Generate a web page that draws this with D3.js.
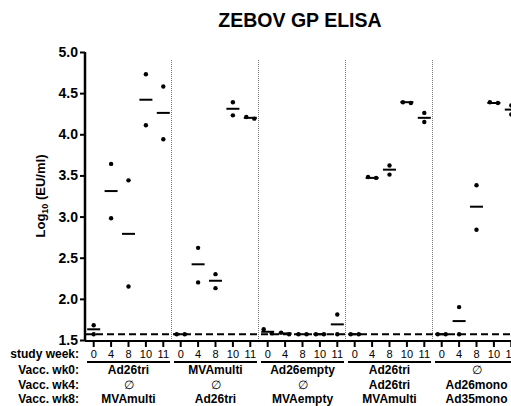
<!DOCTYPE html>
<html>
<head>
<meta charset="utf-8">
<script src="https://cdn.jsdelivr.net/npm/d3@7"></script>
<style>
  body { margin: 0; background: #fff; }
  text { font-family: "Liberation Sans", Arial, sans-serif; fill: #000; }
</style>
</head>
<body>
<div id="chart"></div>
<script>
// categories
var weeks = ["0", "4", "8", "10", "11"];
var groupWk0 = ["Ad26tri", "MVAmulti", "Ad26empty", "Ad26tri", "\u2205"];
var groupWk4 = ["\u2205", "\u2205", "\u2205", "Ad26tri", "Ad26mono"];
var groupWk8 = ["MVAmulti", "Ad26tri", "MVAempty", "MVAmulti", "Ad35mono"];
var rowLabels = ["study week:", "Vacc. wk0:", "Vacc. wk4:", "Vacc. wk8:"];
var yTicks = [1.5, 2.0, 2.5, 3.0, 3.5, 4.0, 4.5, 5.0];
var lod = 1.57;

// two animals per group, per week (log10 EU/ml), groups in order
var animal1 = [1.68, 3.64, 3.44, 4.73, 4.58,
               1.57, 2.62, 2.30, 4.39, 4.21,
               1.63, 1.59, 1.57, 1.57, 1.81,
               1.57, 3.48, 3.62, 4.39, 4.26,
               1.57, 1.90, 3.38, 4.39, 4.35];
var animal2 = [1.57, 2.98, 2.15, 4.11, 3.94,
               1.57, 2.20, 2.13, 4.23, 4.19,
               1.58, 1.57, 1.57, 1.57, 1.57,
               1.57, 3.47, 3.51, 4.38, 4.15,
               1.57, 1.57, 2.84, 4.38, 4.24];
var means   = [1.63, 3.31, 2.79, 4.42, 4.26,
               1.57, 2.42, 2.22, 4.31, 4.20,
               1.60, 1.58, 1.57, 1.57, 1.69,
               1.57, 3.47, 3.57, 4.39, 4.20,
               1.57, 1.73, 3.12, 4.38, 4.30];

var width = 511, height = 406;
var padLeft = 85, plotTop = 52, plotBottom = 340;
var step = 17.4;

var svg = d3.select("#chart").append("svg")
    .attr("width", width).attr("height", height);

// category keys
var keys = [];
groupWk0.forEach(function(g, gi) {
  weeks.forEach(function(w) { keys.push(gi + "_" + w); });
});

var x = d3.scaleBand().domain(keys).range([padLeft, padLeft + keys.length * step]);
var y = d3.scaleLinear().domain([1.5, 5.0]).range([plotBottom, plotTop]);

// title
svg.append("text")
    .attr("x", 300).attr("y", 27)
    .attr("text-anchor", "middle")
    .attr("font-size", "19.5px").attr("font-weight", "bold")
    .text("ZEBOV GP ELISA");

// y label
var yl = svg.append("text")
    .attr("transform", "translate(45,196) rotate(-90)")
    .attr("text-anchor", "middle")
    .attr("font-size", "13px").attr("font-weight", "bold");
yl.append("tspan").text("Log");
yl.append("tspan").attr("font-size", "9px").attr("dy", 3).text("10");
yl.append("tspan").attr("dy", -3).text(" (EU/ml)");

// group separators
for (var gi = 1; gi < groupWk0.length; gi++) {
  var sx = x(gi + "_0") - 0.5;
  svg.append("line")
      .attr("x1", sx).attr("x2", sx)
      .attr("y1", 60).attr("y2", plotBottom)
      .attr("stroke", "#777").attr("stroke-width", 1)
      .attr("stroke-dasharray", "1,1");
}

// LOD dashed line
svg.append("line")
    .attr("x1", padLeft).attr("x2", width)
    .attr("y1", y(lod)).attr("y2", y(lod))
    .attr("stroke", "#000").attr("stroke-width", 2)
    .attr("stroke-dasharray", "7,4");

// y axis
var yAxis = d3.axisLeft(y).tickValues(yTicks).tickFormat(d3.format(".1f"))
    .tickSize(5).tickPadding(2);
var gy = svg.append("g").attr("transform", "translate(" + padLeft + ",0)").call(yAxis);
gy.select(".domain").attr("stroke-width", 2.5).attr("d", "M0," + plotTop + "V" + (plotBottom + 1));
gy.selectAll(".tick line").attr("stroke-width", 2);
gy.selectAll(".tick text").attr("font-size", "14px").attr("font-weight", "bold")
    .attr("font-family", "Liberation Sans, Arial, sans-serif");

// x axis
var xAxis = d3.axisBottom(x).tickSize(6).tickPadding(3)
    .tickFormat(function(d) { return d.split("_")[1]; });
var gx = svg.append("g").attr("transform", "translate(0," + (plotBottom + 1) + ")").call(xAxis);
gx.select(".domain").attr("stroke-width", 2).attr("d", "M" + padLeft + ",0H" + width);
gx.selectAll(".tick line").attr("stroke-width", 2);
gx.selectAll(".tick text").attr("font-size", "11px")
    .attr("font-family", "Liberation Sans, Arial, sans-serif");

// row labels
rowLabels.forEach(function(t, i) {
  svg.append("text")
      .attr("x", 79).attr("y", i === 0 ? 358 : 374 + (i - 1) * 14.5)
      .attr("text-anchor", "end")
      .attr("font-size", "12px").attr("font-weight", "bold")
      .text(t);
});

// group underlines and labels
groupWk0.forEach(function(g, gi) {
  var x0 = x(gi + "_0"), x1 = x(gi + "_11") + x.bandwidth();
  svg.append("line")
      .attr("x1", x0 + 2).attr("x2", x1 - 2)
      .attr("y1", 362).attr("y2", 362)
      .attr("stroke", "#000").attr("stroke-width", 2);
  var cx = (x0 + x1) / 2;
  [groupWk0[gi], groupWk4[gi], groupWk8[gi]].forEach(function(t, r) {
    svg.append("text")
        .attr("x", cx).attr("y", 374 + r * 14.5)
        .attr("text-anchor", "middle")
        .attr("font-size", "12px")
        .attr("font-weight", t === "\u2205" ? "normal" : "bold")
        .text(t);
  });
});

// points
var pts = [];
keys.forEach(function(k, i) {
  var a = animal1[i], b = animal2[i];
  var off = Math.abs(a - b) < 0.05 ? 4 : 0;
  pts.push({ k: k, v: a, dx: -off });
  pts.push({ k: k, v: b, dx: off });
});

var cx = function(k) { return x(k) + x.bandwidth() / 2; };

// mean lines
svg.selectAll(".mean").data(keys).enter().append("line")
    .attr("class", "mean")
    .attr("x1", function(d) { return cx(d) - 6.5; })
    .attr("x2", function(d) { return cx(d) + 6.5; })
    .attr("y1", function(d, i) { return y(means[i]); })
    .attr("y2", function(d, i) { return y(means[i]); })
    .attr("stroke", "#000").attr("stroke-width", 2);

svg.selectAll(".dot").data(pts).enter().append("circle")
    .attr("class", "dot")
    .attr("cx", function(d) { return cx(d.k) + d.dx; })
    .attr("cy", function(d) { return y(d.v); })
    .attr("r", 2.2)
    .attr("fill", "#000");
</script>
</body>
</html>
